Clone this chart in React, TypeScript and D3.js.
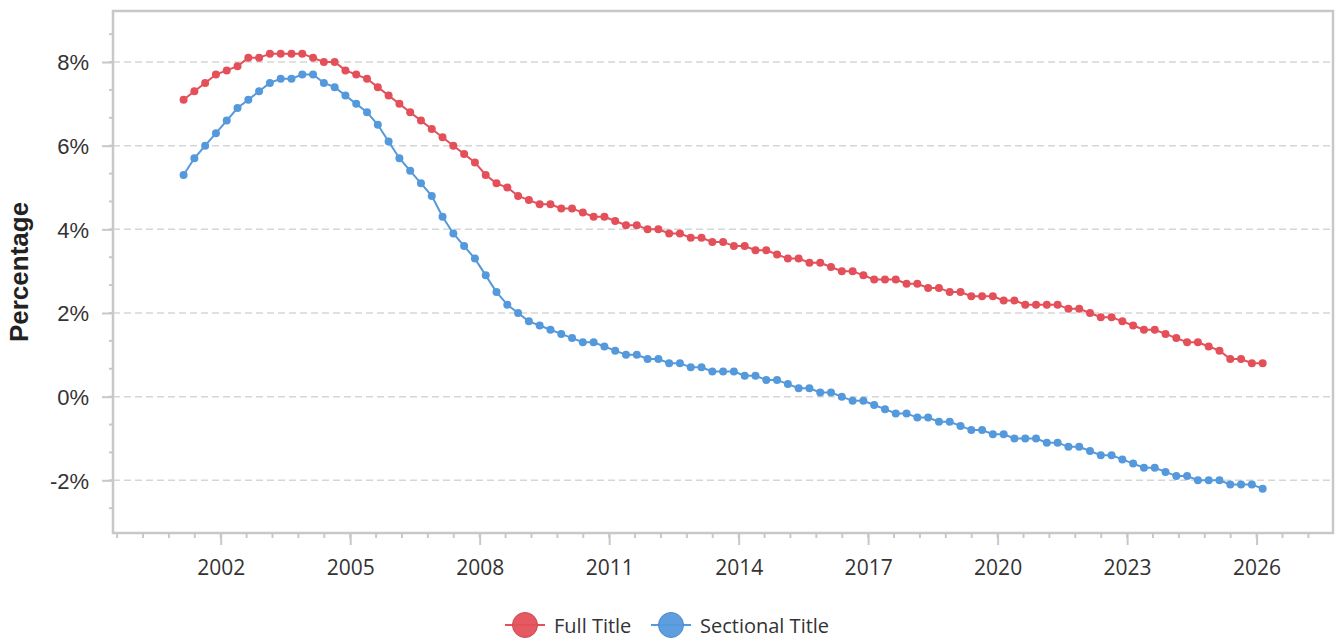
import React, { useEffect, useRef } from 'react';
import * as d3 from 'd3';

// Quarterly readings, first one early in 2001
const START_YEAR = 2001.14;

const fullTitle = [
  7.1, 7.3, 7.5, 7.7, 7.8, 7.9, 8.1, 8.1, 8.2, 8.2, 8.2, 8.2, 8.1, 8.0, 8.0, 7.8, 7.7,
  7.6, 7.4, 7.2, 7.0, 6.8, 6.6, 6.4, 6.2, 6.0, 5.8, 5.6, 5.3, 5.1, 5.0, 4.8, 4.7,
  4.6, 4.6, 4.5, 4.5, 4.4, 4.3, 4.3, 4.2, 4.1, 4.1, 4.0, 4.0, 3.9, 3.9, 3.8, 3.8,
  3.7, 3.7, 3.6, 3.6, 3.5, 3.5, 3.4, 3.3, 3.3, 3.2, 3.2, 3.1, 3.0, 3.0,
  2.9, 2.8, 2.8, 2.8, 2.7, 2.7, 2.6, 2.6, 2.5, 2.5, 2.4, 2.4, 2.4,
  2.3, 2.3, 2.2, 2.2, 2.2, 2.2, 2.1, 2.1, 2.0, 1.9, 1.9, 1.8, 1.7, 1.6, 1.6, 1.5,
  1.4, 1.3, 1.3, 1.2, 1.1, 0.9, 0.9, 0.8, 0.8,
];

const sectionalTitle = [
  5.3, 5.7, 6.0, 6.3, 6.6, 6.9, 7.1, 7.3, 7.5, 7.6, 7.6, 7.7, 7.7, 7.5, 7.4, 7.2, 7.0,
  6.8, 6.5, 6.1, 5.7, 5.4, 5.1, 4.8, 4.3, 3.9, 3.6, 3.3, 2.9, 2.5, 2.2, 2.0, 1.8,
  1.7, 1.6, 1.5, 1.4, 1.3, 1.3,
  1.2, 1.1, 1.0, 1.0, 0.9, 0.9, 0.8, 0.8, 0.7, 0.7, 0.6, 0.6, 0.6, 0.5, 0.5, 0.4,
  0.4, 0.3, 0.2, 0.2, 0.1, 0.1, 0.0, -0.1, -0.1, -0.2, -0.3, -0.4, -0.4, -0.5, -0.5,
  -0.6, -0.6, -0.7, -0.8, -0.8, -0.9, -0.9, -1.0,
  -1.0, -1.0, -1.1, -1.1, -1.2, -1.2, -1.3, -1.4, -1.4, -1.5, -1.6, -1.7, -1.7,
  -1.8, -1.9, -1.9, -2.0, -2.0, -2.0, -2.1, -2.1, -2.1, -2.2,
];

const seriesNames = ['Full Title', 'Sectional Title'];
const seriesColors = ['#e4505a', '#5599dd'];

const xTickYears = [2002, 2005, 2008, 2011, 2014, 2017, 2020, 2023, 2026];
const yTickValues = [-2, 0, 2, 4, 6, 8];

const W = 1342;
const H = 640;

const App: React.FC = () => {
  const ref = useRef<SVGSVGElement>(null);

  useEffect(() => {
    if (!ref.current) return;
    const svg = d3.select(ref.current);
    svg.selectAll('*').remove();

    const margin = { top: 11, right: 9, bottom: 107, left: 113 };
    const left = margin.left;
    const right = W - margin.right;
    const top = margin.top;
    const bottom = H - margin.bottom;

    const x = d3.scaleLinear().domain([1999.505, 2027.77]).range([left, right]);
    const y = d3.scaleLinear().domain([-3.26, 9.22]).range([bottom, top]);

    const frameColor = '#c8c8c8';
    const textColor = '#333333';

    // grid
    svg.append('g')
      .selectAll('line')
      .data(yTickValues)
      .join('line')
      .attr('x1', left)
      .attr('x2', right)
      .attr('y1', d => y(d))
      .attr('y2', d => y(d))
      .attr('stroke', '#d6d6d6')
      .attr('stroke-width', 1.5)
      .attr('stroke-dasharray', '7,4');

    // minor ticks: y every 2/3 %, x every 0.6 yr
    const yMinor = d3.range(-6, 2).map(k => 8 - (k + 6) * 2 / 3 + 4 * 2 / 3)
      .concat(d3.range(0, 18).map(k => 8 - k * 2 / 3))
      .filter(v => v > -3.26 && v < 9.22);
    const yMinorUniq = Array.from(new Set(yMinor.map(v => +v.toFixed(3))));
    svg.append('g')
      .selectAll('line')
      .data(yMinorUniq)
      .join('line')
      .attr('x1', left - 4)
      .attr('x2', left)
      .attr('y1', d => y(d))
      .attr('y2', d => y(d))
      .attr('stroke', frameColor)
      .attr('stroke-width', 2);

    const xMinor = d3.range(1999.6, 2027.7, 0.6);
    svg.append('g')
      .selectAll('line')
      .data(xMinor)
      .join('line')
      .attr('x1', d => x(d))
      .attr('x2', d => x(d))
      .attr('y1', bottom)
      .attr('y2', bottom + 5)
      .attr('stroke', frameColor)
      .attr('stroke-width', 2);

    // y axis
    const yAxis = svg.append('g')
      .attr('transform', `translate(${left},0)`)
      .call(d3.axisLeft(y).tickValues(yTickValues).tickSize(11).tickPadding(13)
        .tickFormat(d => `${d}%`));
    yAxis.select('.domain').remove();
    yAxis.selectAll('line').attr('stroke', frameColor).attr('stroke-width', 2);
    yAxis.selectAll('text')
      .attr('fill', textColor)
      .attr('font-family', '"Liberation Sans", Arial, sans-serif')
      .attr('font-size', 22)
      .attr('dy', '0.36em');

    // x axis
    const xAxis = svg.append('g')
      .attr('transform', `translate(0,${bottom})`)
      .call(d3.axisBottom(x).tickValues(xTickYears).tickSize(12).tickPadding(15)
        .tickFormat(d => String(d)));
    xAxis.select('.domain').remove();
    xAxis.selectAll('line').attr('stroke', frameColor).attr('stroke-width', 2);
    xAxis.selectAll('text')
      .attr('fill', textColor)
      .attr('font-family', '"Open Sans", sans-serif')
      .attr('font-size', 21)
      .attr('dy', '0.71em');

    // frame
    svg.append('rect')
      .attr('x', left)
      .attr('y', top)
      .attr('width', right - left)
      .attr('height', bottom - top)
      .attr('fill', 'none')
      .attr('stroke', frameColor)
      .attr('stroke-width', 2.5);

    // y title
    svg.append('text')
      .attr('transform', `translate(28,${(top + bottom) / 2}) rotate(-90)`)
      .attr('text-anchor', 'middle')
      .attr('font-family', '"Liberation Sans", Arial, sans-serif')
      .attr('font-weight', 'bold')
      .attr('font-size', 26)
      .attr('fill', '#222')
      .text('Percentage');

    // series
    const line = d3.line<number>()
      .x((d, i) => x(START_YEAR + i * 0.25))
      .y(d => y(d));

    [fullTitle, sectionalTitle].forEach((series, s) => {
      const g = svg.append('g');
      g.append('path')
        .datum(series)
        .attr('fill', 'none')
        .attr('stroke', seriesColors[s])
        .attr('stroke-width', 2)
        .attr('d', line);
      g.selectAll('circle')
        .data(series)
        .join('circle')
        .attr('cx', (d, i) => x(START_YEAR + i * 0.25))
        .attr('cy', d => y(d))
        .attr('r', 4)
        .attr('fill', seriesColors[s]);
    });

    // legend
    const legendX = [525, 671];
    const legendY = 625;
    seriesNames.forEach((name, s) => {
      const g = svg.append('g').attr('transform', `translate(${legendX[s]},${legendY})`);
      g.append('line')
        .attr('x1', -20).attr('x2', 20)
        .attr('stroke', seriesColors[s])
        .attr('stroke-width', 2);
      g.append('circle')
        .attr('r', 12.5)
        .attr('fill', seriesColors[s])
        .attr('fill-opacity', 0.95)
        .attr('stroke', d3.color(seriesColors[s])!.darker(0.3).toString())
        .attr('stroke-width', 1);
      g.append('text')
        .attr('x', 29)
        .attr('y', 8)
        .attr('font-family', '"Open Sans", sans-serif')
        .attr('font-size', 20)
        .attr('fill', textColor)
        .text(name);
    });
  }, []);

  return (
    <svg
      ref={ref}
      width={W}
      height={H}
      style={{ position: 'absolute', left: 0, top: 0, background: '#fff' }}
    />
  );
};

export default App;
